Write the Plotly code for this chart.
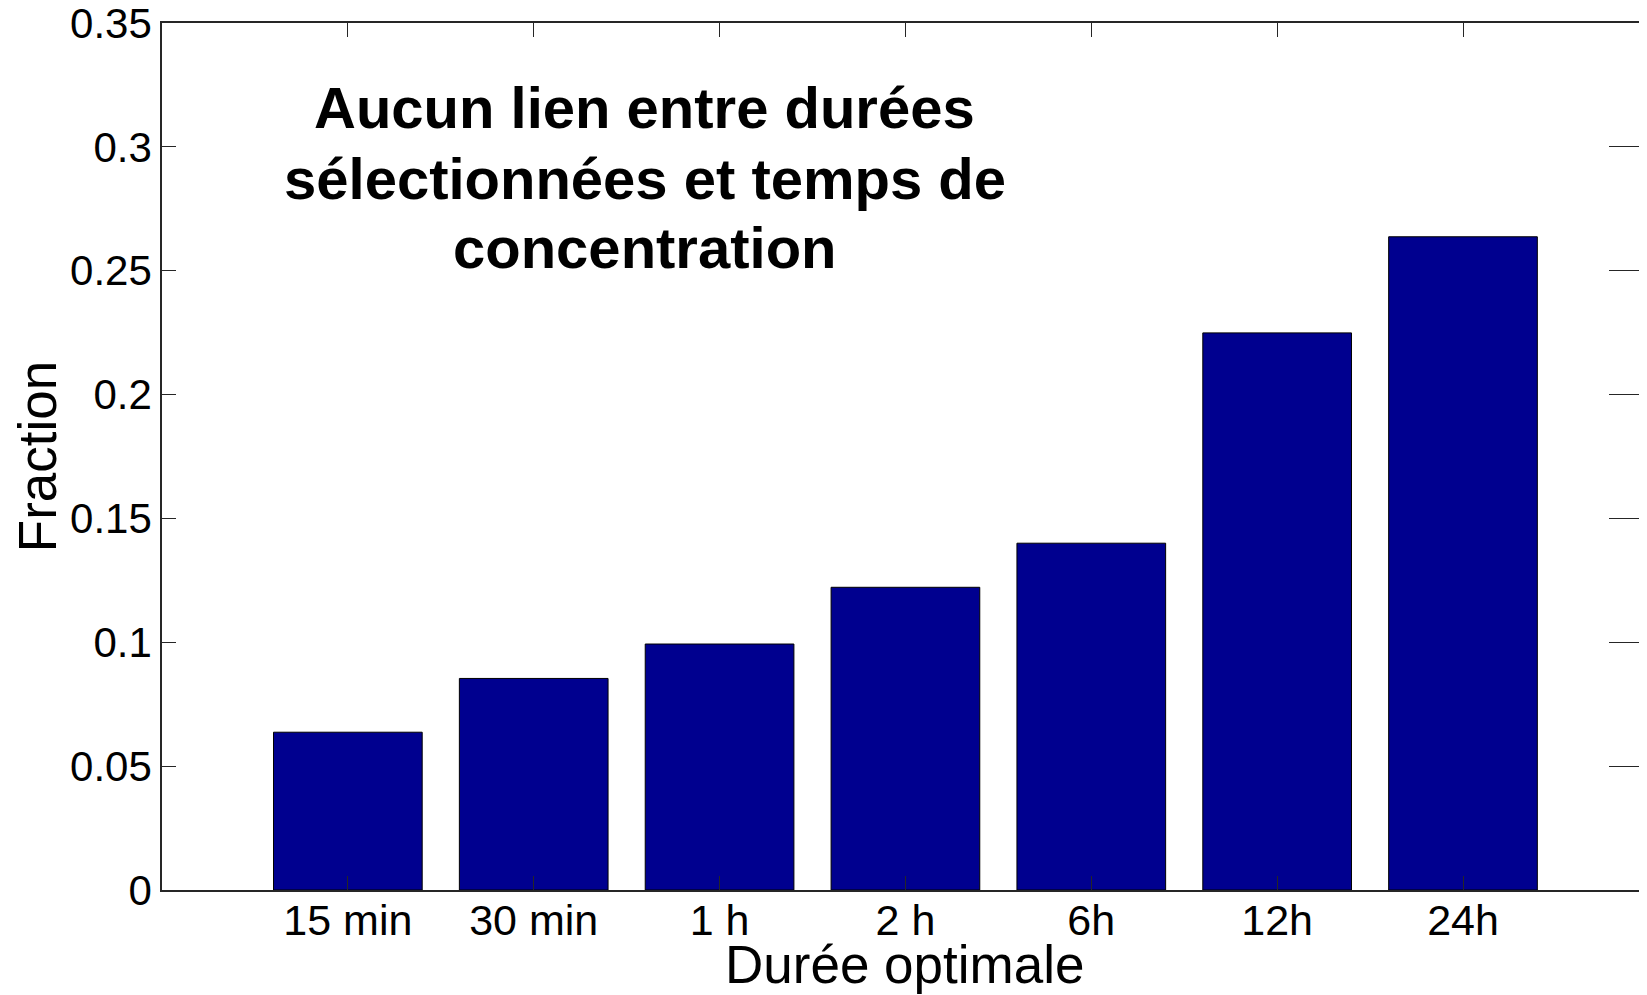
import plotly.graph_objects as go

# Données
durees = ["15 min", "30 min", "1 h", "2 h", "6h", "12h", "24h"]
fractions = [0.0637, 0.0854, 0.0993, 0.1222, 0.1400, 0.2249, 0.2637]
y_ticks = [0, 0.05, 0.1, 0.15, 0.2, 0.25, 0.3, 0.35]
y_tick_labels = ["0", "0.05", "0.1", "0.15", "0.2", "0.25", "0.3", "0.35"]
titre = ["Aucun lien entre durées", "sélectionnées et temps de", "concentration"]

police = "Liberation Sans, Arial, sans-serif"
axe_couleur = "#262626"

fig = go.Figure()
fig.add_trace(go.Bar(x=durees, y=fractions, width=0.8,
                     marker=dict(color="#00008F", line=dict(color="black", width=1)),
                     showlegend=False))
# ticks à droite (sans ligne d'axe)
fig.add_trace(go.Scatter(x=[durees[0]], y=[None], yaxis="y2", showlegend=False))

# Titre dans le graphique, une ligne par annotation
pos_titre = [0.3158, 0.2871, 0.2592]
for ligne, ypos in zip(titre, pos_titre):
    fig.add_annotation(x=1.597, y=ypos, xref="x", yref="y", text="<b>" + ligne + "</b>",
                       showarrow=False, font=dict(family=police, size=58, color="black"),
                       xanchor="center", yanchor="middle")

# titre de l'axe x (annotation pour le rapprocher des étiquettes)
fig.add_annotation(x=0.5, y=-0.086, xref="paper", yref="paper", text="Durée optimale",
                   showarrow=False, font=dict(family=police, size=53, color="black"),
                   xanchor="center", yanchor="middle")

# la page a une marge de 8 px autour du graphique
fig.update_layout(
    width=1647, height=995,
    margin=dict(l=154, r=8, t=15, b=113),
    plot_bgcolor="white", paper_bgcolor="white",
    font=dict(family=police, color="black"),
    bargap=0.2,
    xaxis=dict(type="category", range=[-1, 6.99], showgrid=False, zeroline=False,
               showline=True, linecolor=axe_couleur, linewidth=1.5, mirror="ticks",
               ticks="inside", ticklen=14, tickcolor=axe_couleur, automargin=False,
               tickfont=dict(size=43, color="black"), ticklabelstandoff=-8),
    yaxis=dict(range=[0, 0.35], tickvals=y_ticks, ticktext=y_tick_labels,
               showgrid=False, zeroline=False, showline=True, linecolor=axe_couleur,
               linewidth=1.5, ticks="inside", ticklen=14, tickcolor=axe_couleur,
               tickfont=dict(size=42, color="black"), ticklabeloverflow="allow",
               automargin=False,
               title=dict(text="Fraction", font=dict(size=53, color="black"), standoff=2)),
    yaxis2=dict(overlaying="y", side="right", range=[0, 0.35], tickvals=y_ticks,
                showticklabels=False, showgrid=False, zeroline=False, showline=False,
                ticks="inside", ticklen=38, tickcolor=axe_couleur, automargin=False),
)

fig.write_html("out.html")
